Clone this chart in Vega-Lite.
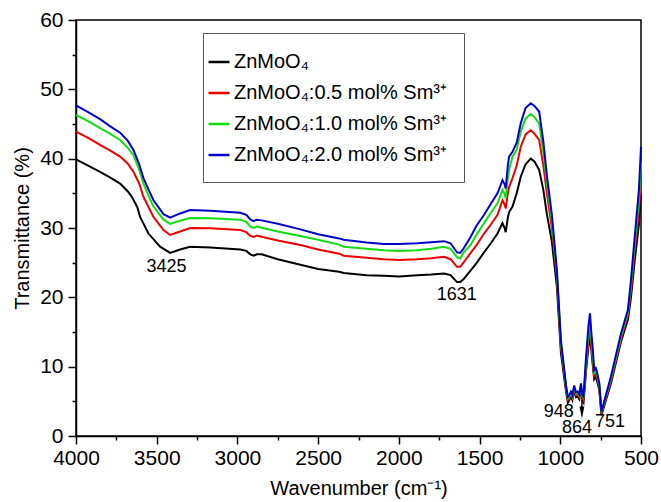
{
 "$schema": "https://vega.github.io/schema/vega-lite/v6.json",
 "width": 565,
 "height": 416,
 "autosize": {"type": "none"},
 "padding": {"left": 76, "top": 20, "right": 20, "bottom": 66},
 "background": "#ffffff",
 "config": {
  "font": "Liberation Sans",
  "view": {"stroke": "#000000", "strokeWidth": 1.5},
  "axis": {"labelFont": "Liberation Sans", "titleFont": "Liberation Sans", "labelColor": "#000000", "titleColor": "#000000", "domainColor": "#000000", "tickColor": "#000000", "grid": false, "labelFontSize": 21, "titleFontSize": 20, "titleFontWeight": "normal", "domainWidth": 1.5, "tickWidth": 1.5, "labelFlush": false}
 },
 "datasets": {
  "spec": [
{"s":"a","x":4000,"y":39.9},{"s":"a","x":3925,"y":39.0},{"s":"a","x":3851,"y":38.1},{"s":"a","x":3790,"y":37.3},{"s":"a","x":3727,"y":36.4},{"s":"a","x":3680,"y":35.3},{"s":"a","x":3654,"y":34.5},{"s":"a","x":3620,"y":33.0},{"s":"a","x":3603,"y":31.6},{"s":"a","x":3551,"y":29.2},{"s":"a","x":3479,"y":27.3},{"s":"a","x":3417,"y":26.4},{"s":"a","x":3355,"y":26.9},{"s":"a","x":3293,"y":27.3},{"s":"a","x":3168,"y":27.2},{"s":"a","x":2982,"y":26.9},{"s":"a","x":2945,"y":26.7},{"s":"a","x":2920,"y":26.2},{"s":"a","x":2900,"y":26.0},{"s":"a","x":2880,"y":26.2},{"s":"a","x":2850,"y":26.2},{"s":"a","x":2750,"y":25.5},{"s":"a","x":2610,"y":24.7},{"s":"a","x":2500,"y":24.1},{"s":"a","x":2370,"y":23.7},{"s":"a","x":2341,"y":23.5},{"s":"a","x":2200,"y":23.2},{"s":"a","x":2093,"y":23.1},{"s":"a","x":2000,"y":23.0},{"s":"a","x":1886,"y":23.2},{"s":"a","x":1800,"y":23.3},{"s":"a","x":1720,"y":23.45},{"s":"a","x":1680,"y":23.2},{"s":"a","x":1640,"y":22.2},{"s":"a","x":1620,"y":22.2},{"s":"a","x":1600,"y":22.6},{"s":"a","x":1555,"y":23.9},{"s":"a","x":1520,"y":24.9},{"s":"a","x":1472,"y":26.5},{"s":"a","x":1430,"y":27.8},{"s":"a","x":1389,"y":29.2},{"s":"a","x":1358,"y":30.7},{"s":"a","x":1345,"y":30.0},{"s":"a","x":1338,"y":29.4},{"s":"a","x":1325,"y":31.5},{"s":"a","x":1317,"y":32.3},{"s":"a","x":1296,"y":33.1},{"s":"a","x":1270,"y":35.0},{"s":"a","x":1245,"y":37.4},{"s":"a","x":1215,"y":39.2},{"s":"a","x":1183,"y":40.0},{"s":"a","x":1160,"y":39.6},{"s":"a","x":1131,"y":38.4},{"s":"a","x":1105,"y":35.5},{"s":"a","x":1083,"y":32.0},{"s":"a","x":1052,"y":28.0},{"s":"a","x":1021,"y":21.5},{"s":"a","x":996,"y":12.0},{"s":"a","x":965,"y":6.5},{"s":"a","x":953,"y":4.8},{"s":"a","x":948,"y":5.0},{"s":"a","x":934,"y":5.7},{"s":"a","x":925,"y":5.2},{"s":"a","x":914,"y":6.6},{"s":"a","x":903,"y":5.6},{"s":"a","x":893,"y":5.7},{"s":"a","x":882,"y":5.3},{"s":"a","x":872,"y":6.8},{"s":"a","x":864,"y":5.3},{"s":"a","x":856,"y":4.9},{"s":"a","x":840,"y":9.5},{"s":"a","x":825,"y":13.0},{"s":"a","x":816,"y":14.5},{"s":"a","x":808,"y":12.5},{"s":"a","x":800,"y":10.5},{"s":"a","x":790,"y":8.2},{"s":"a","x":780,"y":8.6},{"s":"a","x":773,"y":8.0},{"s":"a","x":758,"y":6.6},{"s":"a","x":745,"y":3.0},{"s":"a","x":686,"y":7.6},{"s":"a","x":624,"y":13.6},{"s":"a","x":581,"y":16.8},{"s":"a","x":562,"y":20.0},{"s":"a","x":538,"y":25.5},{"s":"a","x":513,"y":30.5},{"s":"a","x":500,"y":35.0},
{"s":"b","x":4000,"y":43.9},{"s":"b","x":3925,"y":43.0},{"s":"b","x":3851,"y":42.0},{"s":"b","x":3790,"y":41.2},{"s":"b","x":3727,"y":40.3},{"s":"b","x":3680,"y":39.3},{"s":"b","x":3644,"y":38.1},{"s":"b","x":3610,"y":36.5},{"s":"b","x":3582,"y":34.5},{"s":"b","x":3550,"y":33.0},{"s":"b","x":3520,"y":31.6},{"s":"b","x":3458,"y":29.7},{"s":"b","x":3417,"y":29.0},{"s":"b","x":3355,"y":29.5},{"s":"b","x":3293,"y":30.0},{"s":"b","x":3168,"y":29.95},{"s":"b","x":2982,"y":29.7},{"s":"b","x":2945,"y":29.4},{"s":"b","x":2920,"y":28.85},{"s":"b","x":2900,"y":28.7},{"s":"b","x":2880,"y":28.9},{"s":"b","x":2850,"y":28.75},{"s":"b","x":2750,"y":28.2},{"s":"b","x":2610,"y":27.55},{"s":"b","x":2500,"y":26.9},{"s":"b","x":2370,"y":26.3},{"s":"b","x":2341,"y":26.0},{"s":"b","x":2200,"y":25.7},{"s":"b","x":2093,"y":25.5},{"s":"b","x":2000,"y":25.4},{"s":"b","x":1886,"y":25.5},{"s":"b","x":1800,"y":25.65},{"s":"b","x":1720,"y":25.85},{"s":"b","x":1680,"y":25.5},{"s":"b","x":1640,"y":24.4},{"s":"b","x":1620,"y":24.4},{"s":"b","x":1600,"y":25.0},{"s":"b","x":1555,"y":26.4},{"s":"b","x":1520,"y":27.5},{"s":"b","x":1472,"y":29.2},{"s":"b","x":1430,"y":30.5},{"s":"b","x":1389,"y":31.9},{"s":"b","x":1358,"y":34.0},{"s":"b","x":1345,"y":33.4},{"s":"b","x":1338,"y":32.8},{"s":"b","x":1325,"y":35.0},{"s":"b","x":1317,"y":35.9},{"s":"b","x":1296,"y":37.2},{"s":"b","x":1270,"y":39.0},{"s":"b","x":1245,"y":41.7},{"s":"b","x":1215,"y":43.5},{"s":"b","x":1183,"y":44.1},{"s":"b","x":1160,"y":43.6},{"s":"b","x":1131,"y":42.7},{"s":"b","x":1105,"y":39.0},{"s":"b","x":1083,"y":35.0},{"s":"b","x":1052,"y":30.0},{"s":"b","x":1021,"y":22.8},{"s":"b","x":996,"y":13.0},{"s":"b","x":965,"y":7.0},{"s":"b","x":953,"y":5.2},{"s":"b","x":948,"y":5.3},{"s":"b","x":934,"y":6.0},{"s":"b","x":925,"y":5.5},{"s":"b","x":914,"y":6.9},{"s":"b","x":903,"y":5.9},{"s":"b","x":893,"y":6.0},{"s":"b","x":882,"y":5.6},{"s":"b","x":872,"y":7.1},{"s":"b","x":864,"y":5.6},{"s":"b","x":856,"y":5.2},{"s":"b","x":840,"y":10.0},{"s":"b","x":825,"y":14.0},{"s":"b","x":816,"y":15.3},{"s":"b","x":808,"y":13.4},{"s":"b","x":800,"y":11.0},{"s":"b","x":790,"y":8.7},{"s":"b","x":780,"y":9.0},{"s":"b","x":773,"y":8.5},{"s":"b","x":758,"y":7.0},{"s":"b","x":745,"y":3.2},{"s":"b","x":686,"y":8.0},{"s":"b","x":624,"y":14.0},{"s":"b","x":581,"y":17.4},{"s":"b","x":562,"y":21.0},{"s":"b","x":538,"y":27.0},{"s":"b","x":513,"y":32.5},{"s":"b","x":500,"y":37.0},
{"s":"c","x":4000,"y":46.3},{"s":"c","x":3925,"y":45.4},{"s":"c","x":3851,"y":44.4},{"s":"c","x":3790,"y":43.6},{"s":"c","x":3727,"y":42.7},{"s":"c","x":3680,"y":41.6},{"s":"c","x":3644,"y":40.5},{"s":"c","x":3610,"y":38.5},{"s":"c","x":3582,"y":36.4},{"s":"c","x":3550,"y":34.6},{"s":"c","x":3520,"y":33.1},{"s":"c","x":3458,"y":31.2},{"s":"c","x":3417,"y":30.6},{"s":"c","x":3355,"y":31.05},{"s":"c","x":3293,"y":31.45},{"s":"c","x":3168,"y":31.4},{"s":"c","x":2982,"y":31.2},{"s":"c","x":2945,"y":30.9},{"s":"c","x":2920,"y":30.2},{"s":"c","x":2900,"y":30.0},{"s":"c","x":2880,"y":30.2},{"s":"c","x":2850,"y":30.05},{"s":"c","x":2750,"y":29.5},{"s":"c","x":2610,"y":28.85},{"s":"c","x":2500,"y":28.3},{"s":"c","x":2370,"y":27.6},{"s":"c","x":2341,"y":27.3},{"s":"c","x":2200,"y":27.0},{"s":"c","x":2093,"y":26.8},{"s":"c","x":2000,"y":26.7},{"s":"c","x":1886,"y":26.8},{"s":"c","x":1800,"y":27.0},{"s":"c","x":1720,"y":27.3},{"s":"c","x":1680,"y":27.0},{"s":"c","x":1640,"y":25.8},{"s":"c","x":1620,"y":25.6},{"s":"c","x":1600,"y":26.4},{"s":"c","x":1555,"y":27.6},{"s":"c","x":1520,"y":29.0},{"s":"c","x":1472,"y":30.7},{"s":"c","x":1430,"y":32.2},{"s":"c","x":1389,"y":33.55},{"s":"c","x":1358,"y":35.5},{"s":"c","x":1345,"y":34.9},{"s":"c","x":1338,"y":34.3},{"s":"c","x":1325,"y":37.2},{"s":"c","x":1317,"y":38.4},{"s":"c","x":1296,"y":40.3},{"s":"c","x":1270,"y":41.3},{"s":"c","x":1245,"y":43.9},{"s":"c","x":1215,"y":45.8},{"s":"c","x":1183,"y":46.45},{"s":"c","x":1160,"y":46.0},{"s":"c","x":1131,"y":45.1},{"s":"c","x":1105,"y":41.0},{"s":"c","x":1083,"y":36.5},{"s":"c","x":1052,"y":31.0},{"s":"c","x":1021,"y":23.4},{"s":"c","x":996,"y":13.4},{"s":"c","x":965,"y":7.2},{"s":"c","x":953,"y":5.4},{"s":"c","x":948,"y":5.5},{"s":"c","x":934,"y":6.2},{"s":"c","x":925,"y":5.7},{"s":"c","x":914,"y":7.1},{"s":"c","x":903,"y":6.1},{"s":"c","x":893,"y":6.2},{"s":"c","x":882,"y":5.8},{"s":"c","x":872,"y":7.4},{"s":"c","x":864,"y":5.8},{"s":"c","x":856,"y":5.5},{"s":"c","x":840,"y":10.8},{"s":"c","x":825,"y":15.0},{"s":"c","x":816,"y":16.5},{"s":"c","x":808,"y":14.2},{"s":"c","x":800,"y":12.0},{"s":"c","x":790,"y":9.1},{"s":"c","x":780,"y":9.4},{"s":"c","x":773,"y":8.9},{"s":"c","x":758,"y":7.3},{"s":"c","x":745,"y":3.4},{"s":"c","x":686,"y":8.3},{"s":"c","x":624,"y":14.4},{"s":"c","x":581,"y":17.8},{"s":"c","x":562,"y":21.8},{"s":"c","x":538,"y":28.0},{"s":"c","x":513,"y":34.0},{"s":"c","x":500,"y":39.5},
{"s":"d","x":4000,"y":47.7},{"s":"d","x":3925,"y":46.7},{"s":"d","x":3851,"y":45.7},{"s":"d","x":3790,"y":44.7},{"s":"d","x":3727,"y":43.75},{"s":"d","x":3680,"y":42.6},{"s":"d","x":3644,"y":41.25},{"s":"d","x":3610,"y":39.3},{"s":"d","x":3582,"y":37.2},{"s":"d","x":3550,"y":35.5},{"s":"d","x":3520,"y":34.0},{"s":"d","x":3458,"y":32.0},{"s":"d","x":3417,"y":31.5},{"s":"d","x":3355,"y":32.1},{"s":"d","x":3293,"y":32.6},{"s":"d","x":3168,"y":32.5},{"s":"d","x":2982,"y":32.2},{"s":"d","x":2945,"y":31.9},{"s":"d","x":2920,"y":31.25},{"s":"d","x":2900,"y":31.0},{"s":"d","x":2880,"y":31.2},{"s":"d","x":2850,"y":31.1},{"s":"d","x":2750,"y":30.6},{"s":"d","x":2610,"y":29.8},{"s":"d","x":2500,"y":29.1},{"s":"d","x":2370,"y":28.5},{"s":"d","x":2341,"y":28.3},{"s":"d","x":2200,"y":27.9},{"s":"d","x":2093,"y":27.7},{"s":"d","x":2000,"y":27.7},{"s":"d","x":1886,"y":27.8},{"s":"d","x":1800,"y":27.95},{"s":"d","x":1720,"y":28.1},{"s":"d","x":1680,"y":27.8},{"s":"d","x":1640,"y":26.5},{"s":"d","x":1620,"y":26.4},{"s":"d","x":1600,"y":27.0},{"s":"d","x":1555,"y":28.75},{"s":"d","x":1520,"y":30.3},{"s":"d","x":1472,"y":31.9},{"s":"d","x":1430,"y":33.5},{"s":"d","x":1389,"y":35.0},{"s":"d","x":1358,"y":36.9},{"s":"d","x":1345,"y":36.3},{"s":"d","x":1338,"y":35.7},{"s":"d","x":1325,"y":39.0},{"s":"d","x":1317,"y":40.3},{"s":"d","x":1296,"y":41.0},{"s":"d","x":1270,"y":42.3},{"s":"d","x":1245,"y":45.1},{"s":"d","x":1215,"y":47.3},{"s":"d","x":1183,"y":48.0},{"s":"d","x":1160,"y":47.6},{"s":"d","x":1131,"y":46.8},{"s":"d","x":1105,"y":42.5},{"s":"d","x":1083,"y":37.6},{"s":"d","x":1052,"y":31.9},{"s":"d","x":1021,"y":23.9},{"s":"d","x":996,"y":13.8},{"s":"d","x":965,"y":7.4},{"s":"d","x":953,"y":5.6},{"s":"d","x":948,"y":5.7},{"s":"d","x":934,"y":6.4},{"s":"d","x":925,"y":5.9},{"s":"d","x":914,"y":7.3},{"s":"d","x":903,"y":6.3},{"s":"d","x":893,"y":6.4},{"s":"d","x":882,"y":6.0},{"s":"d","x":872,"y":7.6},{"s":"d","x":864,"y":6.0},{"s":"d","x":856,"y":5.7},{"s":"d","x":840,"y":11.5},{"s":"d","x":825,"y":16.0},{"s":"d","x":816,"y":17.7},{"s":"d","x":808,"y":15.0},{"s":"d","x":800,"y":13.0},{"s":"d","x":790,"y":9.5},{"s":"d","x":780,"y":9.8},{"s":"d","x":773,"y":9.3},{"s":"d","x":758,"y":7.6},{"s":"d","x":745,"y":3.5},{"s":"d","x":686,"y":8.6},{"s":"d","x":624,"y":14.8},{"s":"d","x":581,"y":18.2},{"s":"d","x":562,"y":22.5},{"s":"d","x":538,"y":29.0},{"s":"d","x":513,"y":35.5},{"s":"d","x":500,"y":41.7}
  ],
  "ann": [
   {"x": 3440, "y": 24.4, "t": "3425"},
   {"x": 1642, "y": 20.35, "t": "1631"},
   {"x": 1009, "y": 3.5, "t": "948"},
   {"x": 897, "y": 1.2, "t": "864"},
   {"x": 692, "y": 2.0, "t": "751"}
  ],
  "arrow": [{"x": 866, "y": 5.2, "y2": 3.6}],
  "head": [{"x": 866, "y": 3.4}]
 },
 "layer": [
  {
   "data": {"name": "spec"},
   "mark": {"type": "line", "strokeWidth": 2},
   "encoding": {
    "x": {"field": "x", "type": "quantitative", "scale": {"domain": [500, 4000], "reverse": true, "nice": false, "zero": false},
     "axis": {"orient": "bottom", "values": [4000, 3500, 3000, 2500, 2000, 1500, 1000, 500], "format": "d", "tickSize": 8, "labelPadding": 3, "title": "Wavenumber (cm⁻¹)", "titlePadding": 10}},
    "y": {"field": "y", "type": "quantitative", "scale": {"domain": [0, 60], "nice": false, "zero": true},
     "axis": {"orient": "left", "values": [0, 10, 20, 30, 40, 50, 60], "format": "d", "tickSize": 8, "labelPadding": 5, "title": "Transmittance (%)", "titlePadding": 7}},
    "color": {"field": "s", "type": "nominal",
     "scale": {"domain": ["a", "b", "c", "d"], "range": ["#000000", "#ee0000", "#11dd11", "#0000cc"]},
     "legend": {"orient": "none", "legendX": 127, "legendY": 13, "title": null, "symbolType": "stroke", "symbolStrokeWidth": 2.5, "symbolSize": 441, "labelFontSize": 20, "labelFont": "Liberation Sans", "labelColor": "#000000", "labelLimit": 400, "padding": 17, "rowPadding": 9, "symbolOffset": -13, "labelOffset": 3, "strokeColor": "#555555", "fillColor": "#ffffff",
      "labelExpr": "datum.label == 'a' ? 'ZnMoO₄' : datum.label == 'b' ? 'ZnMoO₄:0.5 mol% Sm³⁺' : datum.label == 'c' ? 'ZnMoO₄:1.0 mol% Sm³⁺' : 'ZnMoO₄:2.0 mol% Sm³⁺'"}}
   }
  },
  {
   "data": {"name": "ann"},
   "mark": {"type": "text", "fontSize": 18, "color": "#000000", "align": "center", "baseline": "middle"},
   "encoding": {
    "x": {"field": "x", "type": "quantitative", "axis": {"orient": "bottom", "values": [3750, 3250, 2750, 2250, 1750, 1250, 750], "tickSize": 4, "labels": false, "domain": false, "title": null}},
    "y": {"field": "y", "type": "quantitative", "axis": {"orient": "left", "values": [5, 15, 25, 35, 45, 55], "tickSize": 4, "labels": false, "domain": false, "title": null}},
    "text": {"field": "t"}
   }
  },
  {
   "data": {"name": "arrow"},
   "mark": {"type": "rule", "color": "#000000", "strokeWidth": 1.5},
   "encoding": {
    "x": {"field": "x", "type": "quantitative", "axis": null},
    "y": {"field": "y", "type": "quantitative", "axis": null},
    "y2": {"field": "y2"}
   }
  },
  {
   "data": {"name": "head"},
   "mark": {"type": "point", "shape": "M -0.4 -1 L 0.4 -1 L 0 1 Z", "filled": true, "color": "#000000", "opacity": 1, "size": 144},
   "encoding": {
    "x": {"field": "x", "type": "quantitative", "axis": null},
    "y": {"field": "y", "type": "quantitative", "axis": null}
   }
  }
 ],
 "resolve": {"axis": {"x": "independent", "y": "independent"}}
}
